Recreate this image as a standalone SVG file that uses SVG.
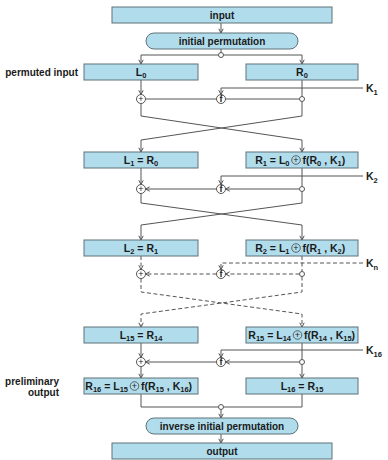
<svg xmlns="http://www.w3.org/2000/svg" width="388" height="460" viewBox="0 0 388 460">
<style>
.box{fill:#b0dcec;stroke:#5f7278;stroke-width:1}
.t{font-family:"Liberation Sans",Arial,sans-serif;font-weight:bold;font-size:10.5px;fill:#1a1a1a}
.tp{font-family:"Liberation Sans",Arial,sans-serif;font-weight:bold;font-size:10px;fill:#1a1a1a}
.s{font-size:7.5px}
.ln{fill:none;stroke:#555;stroke-width:1}
.dash{stroke-dasharray:4,2.5}
.arr{marker-end:url(#ah)}
.op{fill:#fff;stroke:#555;stroke-width:1}
.opt{font-family:"Liberation Sans",Arial,sans-serif;font-size:9px;fill:#222;text-anchor:middle}
.jn{fill:#fff;stroke:#555;stroke-width:1}
.pl{fill:none;stroke:#444;stroke-width:0.8}
</style>
<defs>
<marker id="ah" markerUnits="userSpaceOnUse" markerWidth="8" markerHeight="8" refX="5" refY="3" orient="auto">
<path d="M0.8,0.8 L5,3 L0.8,5.2" fill="none" stroke="#555" stroke-width="1" stroke-dasharray="none"/>
</marker>
</defs>

<g id="connectors">
<path class="ln arr" d="M221,23 V33"/>
<path class="ln" d="M221,49 V52.5"/>
<path class="ln arr" d="M218.5,55 H141 V64"/>
<path class="ln arr" d="M223.5,55 H302 V64"/>
<path class="ln arr" d="M141,80 V94.5"/>
<path class="ln arr" d="M363,88 H221 V94.5"/>
<path class="ln" d="M302,80 V96.5"/>
<path class="ln" d="M299.5,99 H225.5"/>
<path class="ln" d="M216.5,99 H145.5"/>
<path class="ln arr" d="M141,103.5 V116 L302,140 V152"/>
<path class="ln arr" d="M302,101.5 V116 L141,140 V152"/>
<path class="ln arr" d="M141,168 V184.5"/>
<path class="ln arr" d="M363,176 H221 V184.5"/>
<path class="ln" d="M302,168 V186.5"/>
<path class="ln arr" d="M299.5,189 H225.5"/>
<path class="ln arr" d="M216.5,189 H145.5"/>
<path class="ln arr" d="M141,193.5 V203 L302,225 V240"/>
<path class="ln arr" d="M302,191.5 V203 L141,225 V240"/>
<path class="ln dash arr" d="M141,256 V269.5"/>
<path class="ln dash arr" d="M363,263 H221 V269.5"/>
<path class="ln dash" d="M302,256 V271.5"/>
<path class="ln dash arr" d="M299.5,274 H225.5"/>
<path class="ln dash arr" d="M216.5,274 H145.5"/>
<path class="ln dash arr" d="M141,278.5 V292 L302,314 V327"/>
<path class="ln dash arr" d="M302,276.5 V292 L141,314 V327"/>
<path class="ln arr" d="M141,343 V357.5"/>
<path class="ln arr" d="M363,350 H221 V357.5"/>
<path class="ln" d="M302,343 V359.5"/>
<path class="ln arr" d="M299.5,362 H225.5"/>
<path class="ln arr" d="M216.5,362 H145.5"/>
<path class="ln arr" d="M141,366.5 V378"/>
<path class="ln arr" d="M302,364.5 V378"/>
<path class="ln" d="M141,394 V407 H218.5"/>
<path class="ln" d="M302,394 V407 H223.5"/>
<path class="ln arr" d="M221,409.5 V418"/>
<path class="ln arr" d="M221,434 V443"/>
</g>

<g id="input"><rect class="box" x="112" y="7" width="220" height="16"/><text class="tp" x="222" y="18.5" text-anchor="middle">input</text></g>
<g id="ip"><rect class="box" x="146" y="33" width="152" height="16" rx="8"/><text class="tp" x="222" y="44.5" text-anchor="middle">initial permutation</text></g>
<g id="j0"><circle class="jn" cx="221" cy="55" r="2.5"/></g>
<g id="lbl-permuted"><text class="tp" x="78" y="75.5" text-anchor="end">permuted input</text></g>

<g id="L0"><rect class="box" x="84" y="64" width="114" height="16"/><text class="t" x="141" y="75.5" text-anchor="middle">L<tspan class="s" dy="2.5">0</tspan></text></g>
<g id="R0"><rect class="box" x="246" y="64" width="112" height="16"/><text class="t" x="302" y="75.5" text-anchor="middle">R<tspan class="s" dy="2.5">0</tspan></text></g>

<g id="xor1"><circle class="op" cx="141" cy="99" r="4.5"/><text class="opt" x="141" y="102">+</text></g>
<g id="f1"><circle class="op" cx="221" cy="99" r="4.5"/><text class="opt" x="221" y="102" font-weight="bold">f</text></g>
<g id="j1"><circle class="jn" cx="302" cy="99" r="2.5"/></g>
<g id="K1"><text class="t" x="366" y="92">K<tspan class="s" dy="2.5">1</tspan></text></g>

<g id="L1"><rect class="box" x="84" y="152" width="114" height="16"/><text class="t" x="141" y="163.5" text-anchor="middle">L<tspan class="s" dy="2.5">1</tspan><tspan dy="-2.5"> = R</tspan><tspan class="s" dy="2.5">0</tspan></text></g>
<g id="R1"><rect class="box" x="246" y="152" width="112" height="16"/><text class="t" x="289.5" y="163.5" text-anchor="end">R<tspan class="s" dy="2.5">1</tspan><tspan dy="-2.5"> = L</tspan><tspan class="s" dy="2.5">0</tspan></text><circle class="pl" cx="296" cy="160" r="4.3"/><text class="opt" x="296" y="163">+</text><text class="t" x="302.5" y="163.5">f(R<tspan class="s" dy="2.5">0</tspan><tspan dy="-2.5"> , K</tspan><tspan class="s" dy="2.5">1</tspan><tspan dy="-2.5">)</tspan></text></g>

<g id="xor2"><circle class="op" cx="141" cy="189" r="4.5"/><text class="opt" x="141" y="192">+</text></g>
<g id="f2"><circle class="op" cx="221" cy="189" r="4.5"/><text class="opt" x="221" y="192" font-weight="bold">f</text></g>
<g id="j2"><circle class="jn" cx="302" cy="189" r="2.5"/></g>
<g id="K2"><text class="t" x="366" y="180">K<tspan class="s" dy="2.5">2</tspan></text></g>

<g id="L2"><rect class="box" x="84" y="240" width="114" height="16"/><text class="t" x="141" y="251.5" text-anchor="middle">L<tspan class="s" dy="2.5">2</tspan><tspan dy="-2.5"> = R</tspan><tspan class="s" dy="2.5">1</tspan></text></g>
<g id="R2"><rect class="box" x="246" y="240" width="112" height="16"/><text class="t" x="289.5" y="251.5" text-anchor="end">R<tspan class="s" dy="2.5">2</tspan><tspan dy="-2.5"> = L</tspan><tspan class="s" dy="2.5">1</tspan></text><circle class="pl" cx="296" cy="248" r="4.3"/><text class="opt" x="296" y="251">+</text><text class="t" x="302.5" y="251.5">f(R<tspan class="s" dy="2.5">1</tspan><tspan dy="-2.5"> , K</tspan><tspan class="s" dy="2.5">2</tspan><tspan dy="-2.5">)</tspan></text></g>

<g id="xor3"><circle class="op" cx="141" cy="274" r="4.5"/><text class="opt" x="141" y="277">+</text></g>
<g id="f3"><circle class="op" cx="221" cy="274" r="4.5"/><text class="opt" x="221" y="277" font-weight="bold">f</text></g>
<g id="j3"><circle class="jn" cx="302" cy="274" r="2.5"/></g>
<g id="Kn"><text class="t" x="366" y="267">K<tspan class="s" dy="2.5">n</tspan></text></g>

<g id="L15"><rect class="box" x="84" y="327" width="114" height="16"/><text class="t" x="141" y="338.5" text-anchor="middle">L<tspan class="s" dy="2.5">15</tspan><tspan dy="-2.5"> = R</tspan><tspan class="s" dy="2.5">14</tspan></text></g>
<g id="R15"><rect class="box" x="246" y="327" width="112" height="16"/><text class="t" x="291" y="338.5" text-anchor="end">R<tspan class="s" dy="2.5">15</tspan><tspan dy="-2.5"> = L</tspan><tspan class="s" dy="2.5">14</tspan></text><circle class="pl" cx="297.5" cy="335" r="4.3"/><text class="opt" x="297.5" y="338">+</text><text class="t" x="304" y="338.5">f(R<tspan class="s" dy="2.5">14</tspan><tspan dy="-2.5"> , K</tspan><tspan class="s" dy="2.5">15</tspan><tspan dy="-2.5">)</tspan></text></g>

<g id="xor16"><circle class="op" cx="141" cy="362" r="4.5"/><text class="opt" x="141" y="365">+</text></g>
<g id="f16"><circle class="op" cx="221" cy="362" r="4.5"/><text class="opt" x="221" y="365" font-weight="bold">f</text></g>
<g id="j16"><circle class="jn" cx="302" cy="362" r="2.5"/></g>
<g id="K16"><text class="t" x="366" y="354">K<tspan class="s" dy="2.5">16</tspan></text></g>

<g id="lbl-prelim"><text class="tp" x="59" y="385" text-anchor="end">preliminary</text><text class="tp" x="59" y="396" text-anchor="end">output</text></g>
<g id="R16"><rect class="box" x="84" y="378" width="114" height="16"/><text class="t" x="128" y="389.5" text-anchor="end">R<tspan class="s" dy="2.5">16</tspan><tspan dy="-2.5"> = L</tspan><tspan class="s" dy="2.5">15</tspan></text><circle class="pl" cx="134.5" cy="386" r="4.3"/><text class="opt" x="134.5" y="389">+</text><text class="t" x="141" y="389.5">f(R<tspan class="s" dy="2.5">15</tspan><tspan dy="-2.5"> , K</tspan><tspan class="s" dy="2.5">16</tspan><tspan dy="-2.5">)</tspan></text></g>
<g id="L16"><rect class="box" x="246" y="378" width="112" height="16"/><text class="t" x="302" y="389.5" text-anchor="middle">L<tspan class="s" dy="2.5">16</tspan><tspan dy="-2.5"> = R</tspan><tspan class="s" dy="2.5">15</tspan></text></g>

<g id="j17"><circle class="jn" cx="221" cy="407" r="2.5"/></g>
<g id="iip"><rect class="box" x="146" y="418" width="152" height="16" rx="8"/><text class="tp" x="222" y="429.5" text-anchor="middle">inverse initial permutation</text></g>
<g id="output"><rect class="box" x="112" y="443" width="220" height="16"/><text class="tp" x="222" y="454.5" text-anchor="middle">output</text></g>
</svg>
